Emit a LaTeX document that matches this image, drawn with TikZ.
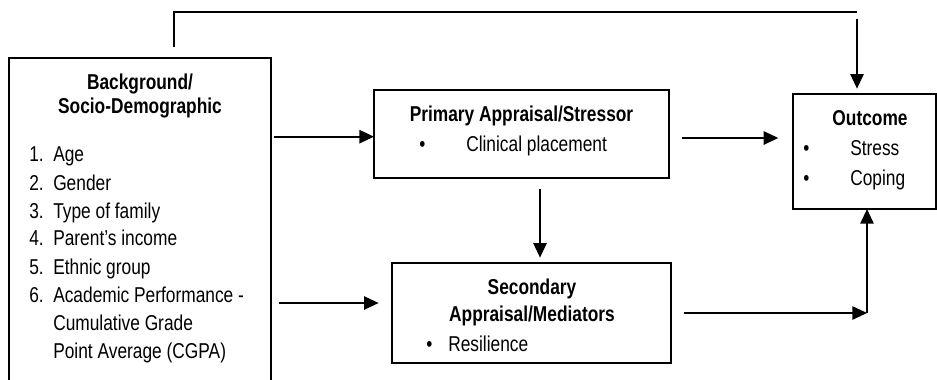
\documentclass[tikz,border=0pt]{standalone}
\usepackage{fontspec}
\usepackage{graphicx}
\setmainfont{Liberation Sans}
\usetikzlibrary{arrows.meta}
\newcommand{\estirar}[1]{\scalebox{1}[1.24]{#1}}
\tikzset{
  caja/.style={draw, line width=1.4pt, inner sep=0pt, outer sep=0pt, anchor=north west},
  titulo/.style={font=\bfseries\fontsize{13pt}{16pt}\selectfont, inner sep=0pt, anchor=base},
  texto/.style={font=\fontsize{13pt}{16pt}\selectfont, inner sep=0pt, anchor=base west},
  flecha/.style={line width=1.3pt, -{Triangle[length=11pt,width=10pt]}},
  linea/.style={line width=1.3pt}
}
\begin{document}
\begin{tikzpicture}[x=0.75pt,y=-0.75pt]
        \clip (0,0) rectangle (937,379);
        % Cajas
        \node[caja, minimum width=196.5pt, minimum height=270pt] (bg) at (9,58) {};
        \node[caja, minimum width=221.25pt, minimum height=66pt] (pri) at (374,90) {};
        \node[caja, minimum width=209.25pt, minimum height=75pt] (sec) at (392,263) {};
        \node[caja, minimum width=107.25pt, minimum height=86.25pt] (out) at (793,94) {};
        % Background
        \node[titulo] (bgt1) at (140,89) {\estirar{Background/}};
        \node[titulo] (bgt2) at (140,113) {\estirar{Socio-Demographic}};
        \foreach \n/\t/\y in {1./Age/161.7, 2./Gender/190, 3./Type of family/218.3,
            4./Parent’s income/245.7, 5./Ethnic group/274, 6./Academic Performance -/302.7}
          \node[texto] (it\n) at (29,\y) {\estirar{\makebox[18pt][l]{\n}\t}};
        \node[texto] (it7) at (53,330) {\estirar{Cumulative Grade}};
        \node[texto] (it8) at (53,358.7) {\estirar{Point Average (CGPA)}};
        % Primary
        \node[titulo] (prit) at (521.5,121) {\estirar{Primary Appraisal/Stressor}};
        \node[texto] (prib) at (419,151.7) {\estirar{\textbullet}};
        \node[texto] (pril) at (466,151.7) {\estirar{Clinical placement}};
        % Secondary
        \node[titulo] (sect1) at (532,294.3) {\estirar{Secondary}};
        \node[titulo] (sect2) at (532,321.7) {\estirar{Appraisal/Mediators}};
        \node[texto] (secb) at (426,351.7) {\estirar{\textbullet}};
        \node[texto] (secl) at (448,351.7) {\estirar{Resilience}};
        % Outcome
        \node[titulo] (outt) at (870,125.7) {\estirar{Outcome}};
        \node[texto] (outb1) at (803,155) {\estirar{\textbullet}};
        \node[texto] (outl1) at (850,155) {\estirar{Stress}};
        \node[texto] (outb2) at (803,185) {\estirar{\textbullet}};
        \node[texto] (outl2) at (850,185) {\estirar{Coping}};
        % Puntos de paso
        \coordinate (t1) at (174,12);
        \coordinate (t2) at (857,12);
        \coordinate (c1) at (540,0);
        \coordinate (j1) at (867,0);
        % Flechas
        \draw[flecha, shorten <=2pt] ([yshift=-2pt]bg.east |- pri.west) -- ([yshift=-2pt]pri.west);
        \draw[flecha, shorten <=6pt, shorten >=10pt] ([yshift=7.5pt]bg.east |- sec.west) -- ([yshift=7.5pt]sec.west);
        \draw[flecha, shorten <=10pt, shorten >=11pt] ([yshift=-3pt]pri.east) -- ([yshift=-3pt]pri.east -| out.west);
        \draw[flecha, shorten <=8pt, shorten >=4pt] (pri.south -| c1) -- (sec.north -| c1);
        \draw[linea, shorten <=8pt] (bg.north -| t1) -- (t1) -- (t2);
        \draw[flecha, shorten <=5pt, shorten >=4pt] (t2) -- (t2 |- out.north);
        \draw[flecha, shorten <=10pt] (sec.east) -- (sec.east -| j1);
        \draw[flecha] (sec.east -| j1) -- (j1 |- out.south);
\end{tikzpicture}
\end{document}
